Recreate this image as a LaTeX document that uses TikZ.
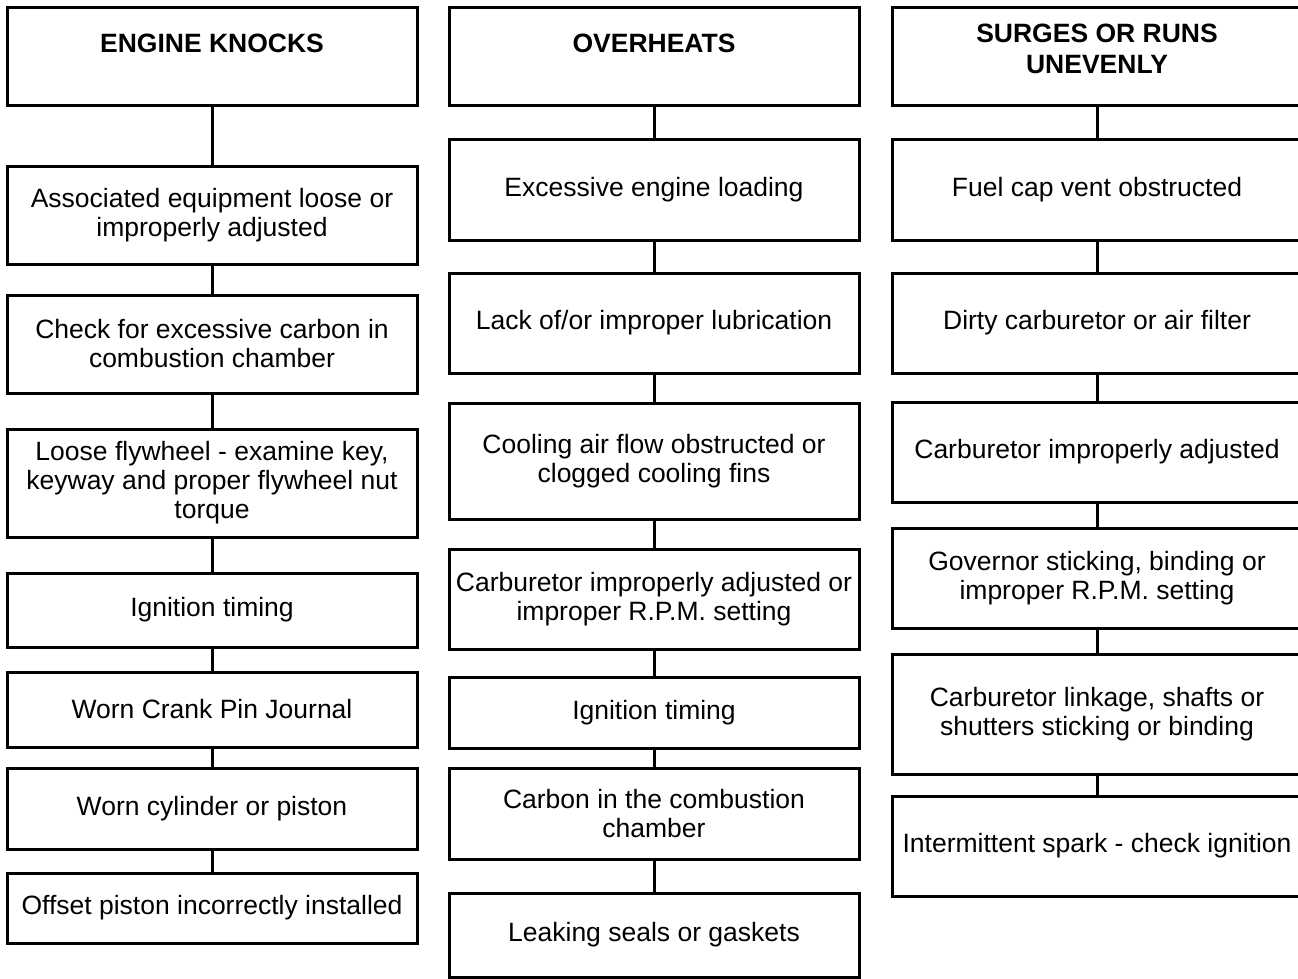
\documentclass[tikz,border=0pt]{standalone}
\usepackage{fontspec}
\setmainfont{Liberation Sans}
\usetikzlibrary{positioning}

\begin{document}
\begin{tikzpicture}[
    x=1pt, y=-1pt,
    box/.style={draw, line width=3pt, outer sep=0pt, inner sep=2pt, minimum width=410pt, align=center, font=\fontsize{26.5}{29}\selectfont},
    head/.style={box, minimum height=98pt, font=\fontsize{26.5}{31}\selectfont\bfseries},
    link/.style={line width=3pt}
]
    \useasboundingbox (0,0) rectangle (1298,979);

    % engine knocks
    \node[head] (knock) at (212,57) {ENGINE KNOCKS\rule[-28pt]{0pt}{0pt}};
    \node[box, minimum height=98pt, below=60pt of knock] (equip) {Associated equipment loose or\\ improperly adjusted};
    \node[box, minimum height=98pt, below=31pt of equip] (carbon) {Check for excessive carbon in\\ combustion chamber};
    \node[box, minimum height=108pt, below=36pt of carbon] (flywheel) {Loose flywheel - examine key,\\ keyway and proper flywheel nut\\ torque};
    \node[box, minimum height=74pt, below=36pt of flywheel] (timing) {Ignition timing};
    \node[box, minimum height=75pt, below=25pt of timing] (crank) {Worn Crank Pin Journal};
    \node[box, minimum height=81pt, below=21pt of crank] (cyl) {Worn cylinder or piston};
    \node[box, minimum height=70pt, below=24pt of cyl] (piston) {Offset piston incorrectly installed};

    % overheats
    \node[head] (heat) at (654,57) {OVERHEATS\rule[-28pt]{0pt}{0pt}};
    \node[box, minimum height=100pt, below=34pt of heat] (load) {Excessive engine loading};
    \node[box, minimum height=100pt, below=33pt of load] (lube) {Lack of/or improper lubrication};
    \node[box, minimum height=116pt, below=30pt of lube] (cool) {Cooling air flow obstructed or\\ clogged cooling fins};
    \node[box, minimum height=100pt, below=30pt of cool] (carb) {Carburetor improperly adjusted or\\ improper R.P.M. setting};
    \node[box, minimum height=71pt, below=28pt of carb] (ign) {Ignition timing};
    \node[box, minimum height=91pt, below=20pt of ign] (soot) {Carbon in the combustion\\ chamber};
    \node[box, minimum height=84pt, below=34pt of soot] (seal) {Leaking seals or gaskets};

    % surges or runs unevenly
    \node[head] (surge) at (1097,57) {SURGES OR RUNS\\ UNEVENLY\rule[-16pt]{0pt}{0pt}};
    \node[box, minimum height=100pt, below=34pt of surge] (vent) {Fuel cap vent obstructed};
    \node[box, minimum height=100pt, below=33pt of vent] (filter) {Dirty carburetor or air filter};
    \node[box, minimum height=100pt, below=29pt of filter] (adjust) {Carburetor improperly adjusted};
    \node[box, minimum height=100pt, below=26pt of adjust] (gov) {Governor sticking, binding or\\ improper R.P.M. setting};
    \node[box, minimum height=120pt, below=26pt of gov] (linkage) {Carburetor linkage, shafts or\\ shutters sticking or binding};
    \node[box, minimum height=100pt, below=22pt of linkage] (spark) {Intermittent spark - check ignition};

    \draw[link] (knock) -- (equip);
    \draw[link] (equip) -- (carbon);
    \draw[link] (carbon) -- (flywheel);
    \draw[link] (flywheel) -- (timing);
    \draw[link] (timing) -- (crank);
    \draw[link] (crank) -- (cyl);
    \draw[link] (cyl) -- (piston);

    \draw[link] (heat) -- (load);
    \draw[link] (load) -- (lube);
    \draw[link] (lube) -- (cool);
    \draw[link] (cool) -- (carb);
    \draw[link] (carb) -- (ign);
    \draw[link] (ign) -- (soot);
    \draw[link] (soot) -- (seal);

    \draw[link] (surge) -- (vent);
    \draw[link] (vent) -- (filter);
    \draw[link] (filter) -- (adjust);
    \draw[link] (adjust) -- (gov);
    \draw[link] (gov) -- (linkage);
    \draw[link] (linkage) -- (spark);
\end{tikzpicture}
\end{document}
